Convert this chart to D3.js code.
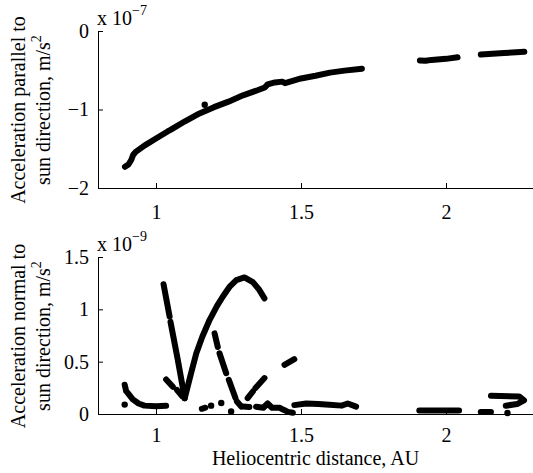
<!DOCTYPE html>
<html lang="en">
<head>
<meta charset="UTF-8"/>
<title>Acceleration vs heliocentric distance</title>
<script src="https://d3js.org/d3.v7.min.js"></script>
<style>
  body { margin: 0; background: white; }
  svg text { font-family: "Liberation Serif", "DejaVu Serif", serif; fill: black; }
</style>
</head>
<body>
<div id="chart"></div>
<script>
// ---- data (distance in AU, acceleration in units of the axis multiplier) ----
// top panel: acceleration parallel to sun direction, x 1e-7 m/s^2
var parallelMain = [[0.893,-1.73],[0.905,-1.70],[0.915,-1.64],[0.921,-1.58],[0.93,-1.54],
  [0.96,-1.46],[1.0,-1.37],[1.04,-1.28],[1.05,-1.26],[1.1,-1.15],[1.15,-1.05],[1.2,-0.97],
  [1.25,-0.90],[1.30,-0.82],[1.35,-0.755],[1.375,-0.72],[1.385,-0.68],[1.41,-0.655],
  [1.435,-0.645],[1.445,-0.665],[1.5,-0.605],[1.55,-0.57],[1.6,-0.53],[1.65,-0.505],[1.71,-0.48]];
var parallelMid = [[1.91,-0.375],[1.93,-0.38],[1.95,-0.368],[2.0,-0.355],[2.04,-0.335]];
var parallelFar = [[2.12,-0.30],[2.2,-0.28],[2.27,-0.265]];
var parallelDots = [[1.168,-0.94]];

// bottom panel: acceleration normal to sun direction, x 1e-9 m/s^2
var normalSegments = [
  [[0.892,0.28],[0.897,0.22],[0.903,0.20],[0.92,0.14],[0.94,0.10],[0.96,0.08],[1.0,0.075],[1.035,0.078]],
  [[1.026,1.24],[1.047,0.93]],
  [[1.050,0.88],[1.075,0.52],[1.099,0.15]],
  [[1.035,0.33],[1.058,0.26]],
  [[1.072,0.23],[1.09,0.17]],
  [[1.099,0.15],[1.12,0.38],[1.139,0.58],[1.16,0.74],[1.185,0.90],[1.21,1.03],[1.23,1.12],
   [1.255,1.22],[1.277,1.28],[1.305,1.305],[1.334,1.26],[1.355,1.19],[1.374,1.105]],
  [[1.202,0.77],[1.213,0.64]],
  [[1.219,0.58],[1.242,0.39]],
  [[1.251,0.327],[1.274,0.152]],
  [[1.279,0.12],[1.294,0.072]],
  [[1.316,0.152],[1.334,0.215]],
  [[1.343,0.248],[1.374,0.343]],
  [[1.443,0.47],[1.477,0.524]],
  [[1.158,0.05],[1.17,0.06]],
  [[1.30,0.072],[1.322,0.067]],
  [[1.345,0.07],[1.37,0.06],[1.385,0.10],[1.40,0.06],[1.426,0.06],[1.44,0.04],[1.455,0.02],[1.472,0.012]],
  [[1.477,0.085],[1.518,0.10],[1.56,0.095],[1.598,0.088],[1.64,0.08],[1.661,0.10],[1.69,0.07]],
  [[1.908,0.034],[2.045,0.034]],
  [[2.12,0.02],[2.155,0.02]],
  [[2.155,0.174],[2.252,0.168],[2.269,0.13],[2.245,0.095],[2.206,0.079]]
];
var normalDots = [[0.892,0.09],[1.19,0.08],[1.225,0.105],[1.259,0.025],[2.212,0.01]];

var xTicks = [1, 1.5, 2];
var topTicks = [0, -1, -2];
var bottomTicks = [0, 0.5, 1, 1.5];

// ---- layout ----
var w = 533, h = 473;
var left = 98, right = 533;
var fs = 20;

var svg = d3.select("#chart").append("svg")
  .attr("width", w).attr("height", h);

var x = d3.scaleLinear().domain([0.8, 2.3]).range([left, right]);
var yTop = d3.scaleLinear().domain([-2, 0]).range([188, 31]);
var yBot = d3.scaleLinear().domain([0, 1.5]).range([414, 257]);

var fmt = d3.format("~g");

function drawAxes(y, ticks, top, bottom, pad) {
  // x axis, ticks inside
  var gx = svg.append("g")
    .attr("transform", "translate(0," + bottom + ")")
    .call(d3.axisBottom(x).tickValues(xTicks).tickFormat(fmt)
      .tickSizeInner(-5).tickSizeOuter(0).tickPadding(pad));
  // y axis, ticks inside
  var gy = svg.append("g")
    .attr("transform", "translate(" + left + ",0)")
    .call(d3.axisLeft(y).tickValues(ticks).tickFormat(fmt)
      .tickSizeInner(-5).tickSizeOuter(0).tickPadding(9));
  [gx, gy].forEach(function(g) {
    g.selectAll("path, line").attr("stroke", "black").attr("stroke-width", 1);
    g.selectAll("text").attr("font-size", fs + "px")
      .attr("font-family", "Liberation Serif, serif").attr("fill", "black");
  });
  gy.select(".domain").attr("d", "M0.5," + top + "V" + bottom);
}

function drawData(y, segs, dots) {
  var line = d3.line().x(function(d) { return x(d[0]); }).y(function(d) { return y(d[1]); });
  svg.append("g").selectAll("path")
    .data(segs).enter().append("path")
    .attr("d", line)
    .attr("fill", "none")
    .attr("stroke", "black")
    .attr("stroke-width", 6)
    .attr("stroke-linecap", "round")
    .attr("stroke-linejoin", "round");
  svg.append("g").selectAll("circle")
    .data(dots).enter().append("circle")
    .attr("cx", function(d) { return x(d[0]); })
    .attr("cy", function(d) { return y(d[1]); })
    .attr("r", 3.2)
    .attr("fill", "black");
}

function multiplier(xp, yp, exp) {
  var t = svg.append("text").attr("x", xp).attr("y", yp).attr("font-size", fs + "px");
  t.append("tspan").text("x 10");
  t.append("tspan").attr("dy", -10).attr("font-size", "14px").text(exp);
}

function yLabel(cy, line1, line2) {
  svg.append("text")
    .attr("transform", "translate(25," + cy + ") rotate(-90)")
    .attr("text-anchor", "middle").attr("font-size", fs + "px")
    .text(line1);
  var t = svg.append("text")
    .attr("transform", "translate(50," + cy + ") rotate(-90)")
    .attr("text-anchor", "middle").attr("font-size", fs + "px");
  t.append("tspan").text(line2);
  t.append("tspan").attr("dy", -9).attr("font-size", "14px").text("2");
}

// top panel
drawData(yTop, [parallelMain, parallelMid, parallelFar], parallelDots);
drawAxes(yTop, topTicks, 31, 188, 17);
multiplier(97, 25, "\u22127");
yLabel(110, "Acceleration parallel to", "sun direction, m/s");

// bottom panel
drawData(yBot, normalSegments, normalDots);
drawAxes(yBot, bottomTicks, 257, 414, 14);
multiplier(97, 251, "\u22129");
yLabel(336, "Acceleration normal to", "sun direction, m/s");

svg.append("text")
  .attr("x", (left + right) / 2).attr("y", 465)
  .attr("text-anchor", "middle").attr("font-size", fs + "px")
  .text("Heliocentric distance, AU");
</script>
</body>
</html>
